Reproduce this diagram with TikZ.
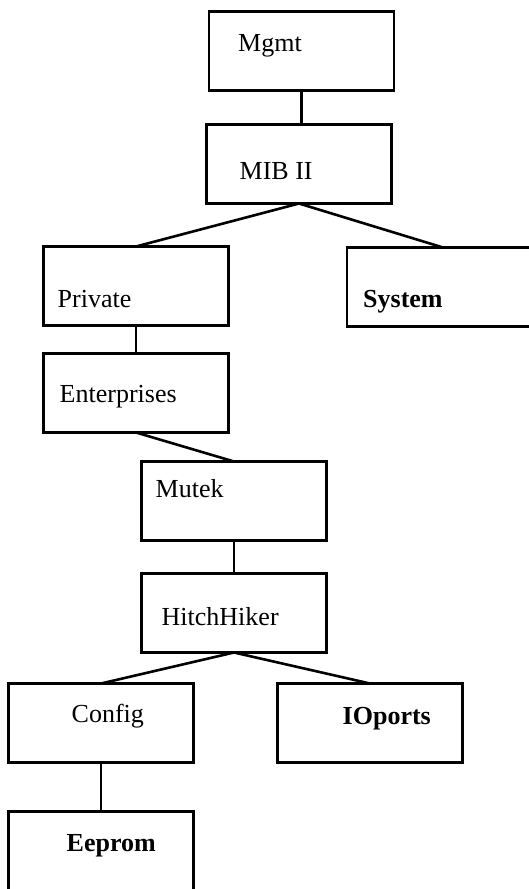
\documentclass[tikz,border=0pt]{standalone}
\usepackage{fontspec}
\setmainfont{Liberation Serif}
\usetikzlibrary{positioning}

\tikzset{
  mibbox/.style={draw, line width=2.7pt, rectangle, minimum width=185pt,
    minimum height=79pt, inner sep=0pt, outer sep=0pt},
  mibtext/.style={anchor=base west, inner sep=0pt,
    font=\fontsize{26}{30}\selectfont},
  link/.style={line width=2.6pt},
}

\begin{document}
\begin{tikzpicture}
        \useasboundingbox (0,0) rectangle (529pt,-889pt);
        \node[mibbox, label={[mibtext, xshift=29pt, yshift=-40pt]north west:Mgmt}]
          (mgmt) at (301.5pt,-51pt) {};
        \node[mibbox, below=34pt of mgmt, xshift=-2.5pt,
          label={[mibtext, xshift=33pt, yshift=-55pt]north west:MIB II}] (mib) {};
        \node[mibbox, below=43pt of mib, xshift=-163pt,
          label={[mibtext, xshift=14pt, yshift=-61pt]north west:Private}] (private) {};
        \node[mibbox, minimum width=192pt, below=44pt of mib, xshift=144pt,
          label={[mibtext, xshift=16pt, yshift=-60pt]north west:\textbf{System}}] (system) {};
        \node[mibbox, below=28pt of private,
          label={[mibtext, xshift=16pt, yshift=-49pt]north west:Enterprises}] (enterprises) {};
        \node[mibbox, below=29pt of enterprises, xshift=98pt,
          label={[mibtext, xshift=14pt, yshift=-36pt]north west:Mutek}] (mutek) {};
        \node[mibbox, below=33pt of mutek,
          label={[mibtext, xshift=20pt, yshift=-52pt]north west:HitchHiker}] (hitchhiker) {};
        \node[mibbox, below=31pt of hitchhiker, xshift=-133pt,
          label={[mibtext, xshift=63pt, yshift=-39pt]north west:Config}] (config) {};
        \node[mibbox, below=31pt of hitchhiker, xshift=136pt,
          label={[mibtext, xshift=65pt, yshift=-41pt]north west:\textbf{IOports}}] (ioports) {};
        \node[mibbox, below=49pt of config,
          label={[mibtext, xshift=58pt, yshift=-40pt]north west:\textbf{Eeprom}}] (eeprom) {};

        \draw[link] (mgmt.south) -- (mgmt.south |- mib.north);
        \draw[link] (mib.south) -- (private.north);
        \draw[link] (mib.south) -- (system.north);
        \draw[link] (private.south) -- (enterprises.north);
        \draw[link] (enterprises.south) -- (mutek.north);
        \draw[link] (mutek.south) -- (hitchhiker.north);
        \draw[link] (hitchhiker.south) -- (config.north);
        \draw[link] (hitchhiker.south) -- (ioports.north);
        \draw[link] (config.south) -- (eeprom.north);
      \end{tikzpicture}
\end{document}
